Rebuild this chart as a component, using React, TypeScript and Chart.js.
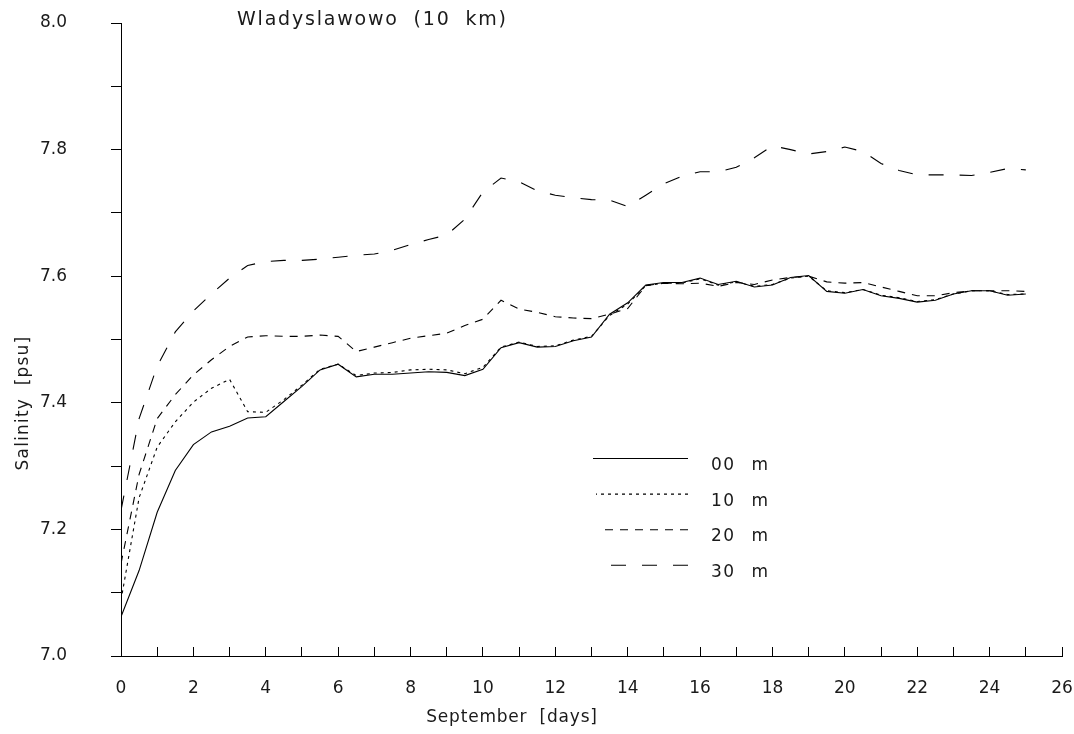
import React, { useEffect, useRef } from 'react';
import { Chart, registerables } from 'chart.js';

Chart.register(...registerables);

// ---------- data ----------
const DAYS = [
  0, 0.5, 1, 1.5, 2, 2.5, 3, 3.5, 4, 4.5, 5, 5.5, 6, 6.5, 7, 7.5, 8, 8.5, 9, 9.5,
  10, 10.5, 11, 11.5, 12, 12.5, 13, 13.5, 14, 14.5, 15, 15.5, 16, 16.5, 17, 17.5,
  18, 18.5, 19, 19.5, 20, 20.5, 21, 21.5, 22, 22.5, 23, 23.5, 24, 24.5, 25,
];

const SAL_00 = [
  7.062, 7.135, 7.227, 7.293, 7.334, 7.354, 7.363, 7.376, 7.378, 7.402, 7.426,
  7.452, 7.461, 7.441, 7.445, 7.445, 7.447, 7.449, 7.448, 7.443, 7.453, 7.487,
  7.495, 7.488, 7.489, 7.498, 7.504, 7.540, 7.558, 7.586, 7.590, 7.590, 7.597,
  7.587, 7.592, 7.583, 7.586, 7.598, 7.601, 7.576, 7.573, 7.579, 7.569, 7.565,
  7.559, 7.562, 7.572, 7.577, 7.577, 7.570, 7.572,
];

const SAL_10 = [
  7.088, 7.250, 7.330, 7.370, 7.401, 7.423, 7.437, 7.386, 7.385, 7.405, 7.428,
  7.453, 7.461, 7.443, 7.447, 7.448, 7.452, 7.453, 7.452, 7.446, 7.456, 7.488,
  7.496, 7.489, 7.490, 7.499, 7.505, 7.538, 7.556, 7.585, 7.589, 7.589, 7.596,
  7.586, 7.591, 7.584, 7.587, 7.597, 7.600, 7.577, 7.574, 7.579, 7.570, 7.566,
  7.560, 7.563, 7.572, 7.577, 7.577, 7.571, 7.572,
];

const SAL_20 = [
  7.146, 7.287, 7.375, 7.413, 7.444, 7.468, 7.489, 7.504, 7.506, 7.505, 7.505,
  7.507, 7.505, 7.481, 7.488, 7.495, 7.502, 7.506, 7.510, 7.522, 7.532, 7.562,
  7.548, 7.543, 7.536, 7.534, 7.533, 7.540, 7.549, 7.585, 7.589, 7.588, 7.589,
  7.584, 7.590, 7.587, 7.594, 7.598, 7.600, 7.591, 7.589, 7.590, 7.583, 7.576,
  7.569, 7.569, 7.574, 7.577, 7.577, 7.577, 7.576,
];

const SAL_30 = [
  7.230, 7.375, 7.458, 7.512, 7.545, 7.572, 7.597, 7.617, 7.623, 7.625, 7.625,
  7.627, 7.630, 7.633, 7.635, 7.641, 7.650, 7.658, 7.665, 7.690, 7.733, 7.755,
  7.749, 7.735, 7.728, 7.724, 7.721, 7.720, 7.710, 7.728, 7.746, 7.758, 7.765,
  7.765, 7.772, 7.787, 7.806, 7.800, 7.793, 7.797, 7.804, 7.797, 7.778, 7.767,
  7.760, 7.760, 7.760, 7.759, 7.764, 7.770, 7.768,
];

const SERIES_LABELS = ['00 m', '10 m', '20 m', '30 m'];
const SERIES_VALUES = [SAL_00, SAL_10, SAL_20, SAL_30];

const CHART_TITLE = 'Wladyslawowo (10 km)';
const X_TITLE = 'September [days]';
const Y_TITLE = 'Salinity [psu]';

const X_MIN = 0;
const X_MAX = 26;
const X_STEP = 1;
const X_LABEL_EVERY = 2;
const Y_MIN = 7.0;
const Y_MAX = 8.0;
const Y_STEP = 0.1;

// ---------- styles ----------
const FONT = '"DejaVu Sans", "Liberation Sans", sans-serif';
const TEXT = '#1a1a1a';
const DASHES: number[][] = [[], [3, 4], [8, 7], [15, 16]];
const LEGEND_START_X = [593, 596, 600, 608];

const annotPlugin = {
  id: 'annot',
  afterDraw(chart: any) {
    const ctx: any = chart.ctx;
    ctx.save();
    ctx.fillStyle = TEXT;
    ctx.textBaseline = 'middle';
    ctx.textAlign = 'left';

    // chart title
    ctx.font = `19px ${FONT}`;
    ctx.letterSpacing = '1.8px';
    ctx.wordSpacing = '7px';
    ctx.fillText(CHART_TITLE, 237, 20);

    ctx.font = `17px ${FONT}`;
    // x title
    ctx.letterSpacing = '0.8px';
    ctx.wordSpacing = '6px';
    ctx.textAlign = 'center';
    ctx.fillText(X_TITLE, 512, 718);

    // y title
    ctx.save();
    ctx.translate(24, 403);
    ctx.rotate(-Math.PI / 2);
    ctx.letterSpacing = '1.2px';
    ctx.wordSpacing = '6px';
    ctx.fillText(Y_TITLE, 0, 0);
    ctx.restore();

    // legend
    ctx.textAlign = 'left';
    ctx.letterSpacing = '1.5px';
    ctx.wordSpacing = '9px';
    chart.data.datasets.forEach((ds: any, i: number) => {
      const y = 458.5 + i * 35.6;
      ctx.save();
      ctx.strokeStyle = '#000';
      ctx.lineWidth = 1.1;
      ctx.setLineDash(ds.borderDash || []);
      ctx.beginPath();
      ctx.moveTo(688, y);
      ctx.lineTo(LEGEND_START_X[i], y);
      ctx.stroke();
      ctx.restore();
      ctx.fillText(ds.label, 711, y + 7);
    });
    ctx.restore();
  },
};

export default function App() {
  const ref = useRef<HTMLCanvasElement | null>(null);

  useEffect(() => {
    if (!ref.current) return;
    const datasets = SERIES_VALUES.map((vals, i) => ({
      label: SERIES_LABELS[i],
      data: DAYS.map((d, j) => ({ x: d, y: vals[j] })),
      borderColor: '#000',
      backgroundColor: '#000',
      borderWidth: 1.1,
      borderDash: DASHES[i],
      pointRadius: 0,
      tension: 0,
      fill: false,
    }));

    const chart = new Chart(ref.current, {
      type: 'line',
      data: { datasets },
      options: {
        responsive: false,
        animation: false,
        events: [],
        layout: { padding: { left: 0, right: 12, top: 23, bottom: 0 } },
        plugins: {
          legend: { display: false },
          title: { display: false },
          tooltip: { enabled: false },
        },
        scales: {
          x: {
            type: 'linear',
            min: X_MIN,
            max: X_MAX,
            afterFit: (s: any) => {
              s.height = 78;
              s.paddingLeft = 0;
              s.paddingRight = 0;
              s.paddingTop = 0;
              s.paddingBottom = 0;
            },
            ticks: {
              stepSize: X_STEP,
              autoSkip: false,
              maxRotation: 0,
              padding: 31,
              color: TEXT,
              font: { family: FONT, size: 17 },
              callback: (v: any) => (Number(v) % X_LABEL_EVERY === 0 ? String(v) : ''),
            },
            grid: {
              drawOnChartArea: false,
              drawTicks: true,
              tickLength: -9,
              color: '#000',
              lineWidth: 1,
            },
            border: { display: true, color: '#000', width: 1 },
          },
          y: {
            type: 'linear',
            min: Y_MIN,
            max: Y_MAX,
            afterFit: (s: any) => {
              s.width = 121;
              s.paddingLeft = 0;
              s.paddingRight = 0;
              s.paddingTop = 0;
              s.paddingBottom = 0;
            },
            ticks: {
              stepSize: Y_STEP,
              autoSkip: false,
              padding: 44,
              color: TEXT,
              font: { family: FONT, size: 17 },
              callback: (v: any) => {
                const n = Math.round(Number(v) * 10);
                return n % 2 === 0 ? (n / 10).toFixed(1) : '';
              },
            },
            grid: {
              drawOnChartArea: false,
              drawTicks: true,
              tickLength: 10,
              color: '#000',
              lineWidth: 1,
            },
            border: { display: true, color: '#000', width: 1 },
          },
        },
      },
      plugins: [annotPlugin],
    } as any);

    return () => chart.destroy();
  }, []);

  return (
    <div style={{ position: 'fixed', left: 0, top: 0, width: 1074, height: 734, background: '#fff' }}>
      <canvas ref={ref} width={1074} height={734} style={{ display: 'block' }} />
    </div>
  );
}
